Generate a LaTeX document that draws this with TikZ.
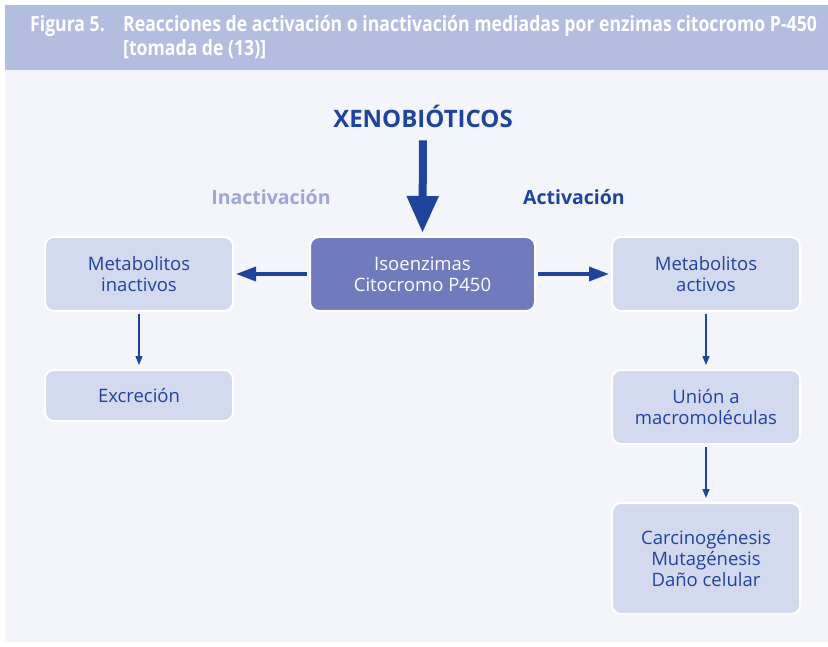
\documentclass[tikz,border=0pt]{standalone}
\usepackage{fontspec}
\setmainfont{Open Sans}
\newfontfamily\headfont[FakeStretch=0.84]{Open Sans}
\usetikzlibrary{arrows.meta}
\definecolor{bandblue}{HTML}{B3BDE0}
\definecolor{paleback}{HTML}{F3F5FA}
\definecolor{boxlight}{HTML}{D3D9EE}
\definecolor{boxdark}{HTML}{6F7BBD}
\definecolor{inkblue}{HTML}{1F449C}
\definecolor{lilac}{HTML}{9FA5D6}
\tikzset{
  stage/.style={rounded corners=9pt, draw=white, line width=2pt, fill=boxlight,
    text=inkblue, align=center, minimum width=188pt,
    font=\fontsize{18.5}{21}\selectfont},
  core/.style={stage, fill=boxdark, text=white, minimum width=225pt},
  caption line/.style={anchor=base west, inner sep=0, text=white,
    font=\headfont\bfseries\fontsize{21}{24}\selectfont},
  thick arrow/.style={draw=inkblue, line width=3.5pt, -{Triangle[width=14pt,length=20pt]}},
  thin arrow/.style={draw=inkblue, line width=1.3pt, -{Triangle[width=7pt,length=9pt]}},
  big arrow/.style={draw=inkblue, line width=8pt, -{Triangle[width=30pt,length=37pt]}},
}
\begin{document}
\begin{tikzpicture}[x=1pt,y=-1pt]
  \useasboundingbox (0,0) rectangle (828,647);
  % header band and background
  \fill[bandblue] (5,5) rectangle (828,70);
  \fill[paleback] (5,70) rectangle (828,642);
  \node[caption line] (fignum) at (30,32) {Figura 5.};
  \node[caption line] (caption) at (123,32) {Reacciones de activación o inactivación mediadas por enzimas citocromo P-450};
  \node[caption line] (source) at (123,56) {[tomada de (13)]};
  % title and branch labels
  \node[anchor=base, inner sep=2pt, text=inkblue, font=\bfseries\fontsize{24}{28}\selectfont]
    (xeno) at (423,128) {XENOBIÓTICOS};
  \node[anchor=base, text=lilac, font=\bfseries\fontsize{19.5}{22}\selectfont]
    (inact) at (271,205) {Inactivación};
  \node[anchor=base, text=inkblue, font=\bfseries\fontsize{19.5}{22}\selectfont]
    (act) at (574,205) {Activación};
  % boxes
  \node[core, minimum height=74pt] (iso) at (422.5,274) {Isoenzimas\\Citocromo P450};
  \node[stage, minimum height=74pt] (metin) at (139,274) {Metabolitos\\inactivos};
  \node[stage, minimum height=51pt] (excr) at (139,395.5) {Excreción};
  \node[stage, minimum height=74pt] (metac) at (706,274) {Metabolitos\\activos};
  \node[stage, minimum height=74pt] (union) at (706,407) {Unión a\\macromoléculas};
  \node[stage, minimum height=111pt] (dano) at (706,558.5) {Carcinogénesis\\Mutagénesis\\Daño celular};
  % arrows
  \draw[big arrow, shorten <=10pt, shorten >=3pt] (xeno.south) -- (iso.north);
  \draw[thick arrow, shorten <=2pt, shorten >=2pt] (iso.west) -- (metin.east);
  \draw[thick arrow, shorten <=2pt, shorten >=2pt] (iso.east) -- (metac.west);
  \draw[thin arrow, shorten <=2pt, shorten >=4pt] (metin.south) -- (excr.north);
  \draw[thin arrow, shorten <=2pt, shorten >=4pt] (metac.south) -- (union.north);
  \draw[thin arrow, shorten <=2pt, shorten >=4pt] (union.south) -- (dano.north);
\end{tikzpicture}
\end{document}
